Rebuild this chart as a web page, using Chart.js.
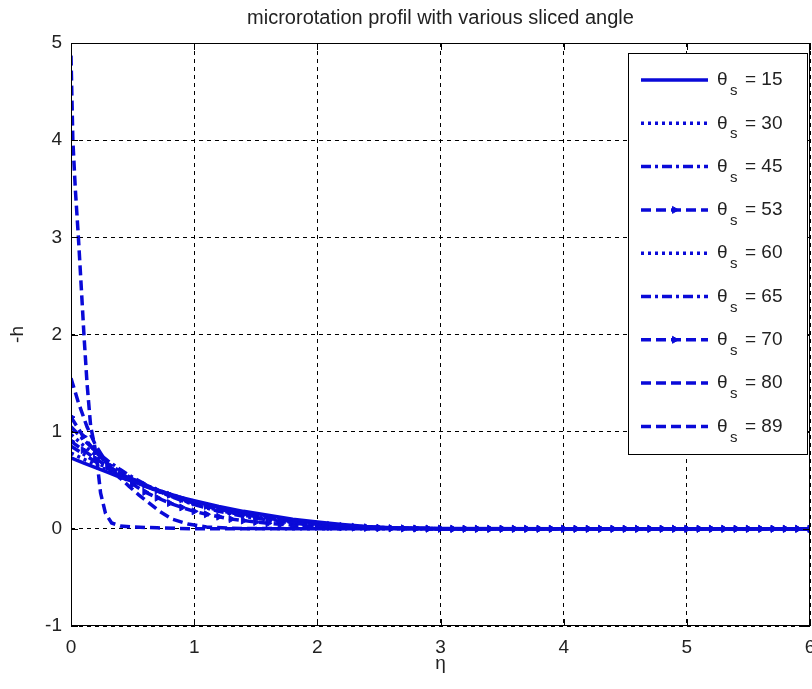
<!DOCTYPE html>
<html>
<head>
<meta charset="utf-8">
<title>microrotation profil with various sliced angle</title>
<script src="https://cdn.jsdelivr.net/npm/chart.js@4.4.0/dist/chart.umd.min.js"></script>
<style>
  html, body { margin: 0; padding: 0; background: #fff; overflow: hidden; }
  #wrap { width: 812px; height: 689px; position: relative; }
</style>
</head>
<body>
<div id="wrap"><canvas id="profileChart"></canvas></div>
<script>
// Values (eta on x, -h on y)
const etaFull = [0, 0.1, 0.2, 0.3, 0.4, 0.5, 0.6, 0.7, 0.8, 0.9,
                 1.0, 1.1, 1.2, 1.3, 1.4, 1.5, 1.6, 1.7, 1.8, 1.9,
                 2.0, 2.1, 2.2, 2.3, 2.4, 2.5, 2.6, 2.7, 2.8, 2.9,
                 3.0, 3.1, 3.2, 3.3, 3.4, 3.5, 3.6, 3.7, 3.8, 3.9,
                 4.0, 4.1, 4.2, 4.3, 4.4, 4.5, 4.6, 4.7, 4.8, 4.9,
                 5.0, 5.1, 5.2, 5.3, 5.4, 5.5, 5.6, 5.7, 5.8, 5.9, 6.0];
const etaBand = [0, 0.1, 0.2, 0.3, 0.4, 0.5, 0.6, 0.7, 0.8, 0.9, 1.0, 1.2, 1.4, 1.6, 1.8, 2.0, 2.2, 2.4, 2.6, 3, 4, 5, 6];
const eta80 = [0, 0.06, 0.13, 0.2, 0.3, 0.4, 0.47, 0.55, 0.63, 0.72, 0.82, 0.95, 1.1, 1.3, 2, 3, 4, 5, 6];
const eta89 = [0, 0.015, 0.035, 0.06, 0.085, 0.105, 0.13, 0.16, 0.19, 0.21, 0.24, 0.28, 0.33, 0.4, 0.5, 0.7, 1.0, 2, 3, 4, 5, 6];

const h15 = [0.73, 0.68, 0.63, 0.58, 0.53, 0.49, 0.44, 0.40, 0.36, 0.32, 0.29, 0.23, 0.18, 0.14, 0.10, 0.07, 0.045, 0.025, 0.012, 0.003, 0, 0, 0];
const h30 = [0.78, 0.72, 0.66, 0.60, 0.545, 0.495, 0.45, 0.40, 0.36, 0.32, 0.28, 0.22, 0.17, 0.125, 0.09, 0.06, 0.035, 0.02, 0.01, 0.002, 0, 0, 0];
const h45 = [0.85, 0.77, 0.69, 0.62, 0.555, 0.495, 0.44, 0.39, 0.345, 0.30, 0.265, 0.20, 0.15, 0.11, 0.075, 0.05, 0.03, 0.015, 0.008, 0.002, 0, 0, 0];
const h53 = [0.90, 0.81, 0.72, 0.64, 0.57, 0.505, 0.45, 0.395, 0.35, 0.305,
             0.27, 0.235, 0.205, 0.175, 0.15, 0.13, 0.11, 0.09, 0.075, 0.06,
             0.05, 0.04, 0.03, 0.022, 0.016, 0.011, 0.007, 0.005, 0.003, 0.002,
             0.001, 0, 0, 0, 0, 0, 0, 0, 0, 0,
             0, 0, 0, 0, 0, 0, 0, 0, 0, 0,
             0, 0, 0, 0, 0, 0, 0, 0, 0, 0, 0];
const h60 = [0.97, 0.86, 0.76, 0.67, 0.59, 0.515, 0.45, 0.39, 0.34, 0.295, 0.255, 0.19, 0.14, 0.10, 0.065, 0.04, 0.025, 0.012, 0.006, 0.001, 0, 0, 0];
const h65 = [1.05, 0.92, 0.80, 0.70, 0.61, 0.53, 0.46, 0.395, 0.34, 0.29, 0.25, 0.18, 0.13, 0.09, 0.06, 0.035, 0.02, 0.01, 0.005, 0.001, 0, 0, 0];
const h70 = [1.15, 0.95, 0.79, 0.66, 0.55, 0.46, 0.38, 0.32, 0.265, 0.22,
             0.18, 0.15, 0.125, 0.10, 0.085, 0.07, 0.057, 0.047, 0.038, 0.03,
             0.024, 0.019, 0.015, 0.012, 0.009, 0.007, 0.005, 0.004, 0.003, 0.002,
             0.001, 0, 0, 0, 0, 0, 0, 0, 0, 0,
             0, 0, 0, 0, 0, 0, 0, 0, 0, 0,
             0, 0, 0, 0, 0, 0, 0, 0, 0, 0, 0];
const h80 = [1.55, 1.3, 1.05, 0.86, 0.66, 0.52, 0.44, 0.35, 0.27, 0.18, 0.10, 0.05, 0.02, 0.005, 0, 0, 0, 0, 0];
const h89 = [4.87, 4.0, 3.5, 3.0, 2.45, 2.0, 1.5, 1.05, 0.87, 0.71, 0.37, 0.16, 0.06, 0.03, 0.02, 0.01, 0, 0, 0, 0, 0, 0];

const angles = [15, 30, 45, 53, 60, 65, 70, 80, 89];
const xTicks = [0, 1, 2, 3, 4, 5, 6];
const yTicks = [-1, 0, 1, 2, 3, 4, 5];

const chartTitle = 'microrotation profil with various sliced angle';
const lineColor = '#0a0ad8';
const fontFamily = "'Liberation Sans', Arial, sans-serif";

function toPoints(xs, ys) {
    return xs.map(function(x, i) { return { x: x, y: ys[i] }; });
}

// line style per series (MATLAB-like: -, :, -., --, with > markers)
const seriesDefs = [
    { eta: etaBand, h: h15, dash: [], marker: false },
    { eta: etaBand, h: h30, dash: [3, 4], marker: false },
    { eta: etaBand, h: h45, dash: [10, 4, 3, 4], marker: false },
    { eta: etaFull, h: h53, dash: [10, 5], marker: true },
    { eta: etaBand, h: h60, dash: [3, 4], marker: false },
    { eta: etaBand, h: h65, dash: [10, 4, 3, 4], marker: false },
    { eta: etaFull, h: h70, dash: [10, 5], marker: true },
    { eta: eta80, h: h80, dash: [10, 5], marker: false },
    { eta: eta89, h: h89, dash: [10, 5], marker: false }
];

const datasets = seriesDefs.map(function(s, i) {
    return {
        label: 'θs = ' + angles[i],
        data: toPoints(s.eta, s.h),
        borderColor: lineColor,
        backgroundColor: lineColor,
        borderWidth: 3.5,
        borderDash: s.dash,
        pointRadius: s.marker ? 4 : 0,
        pointStyle: 'triangle',
        pointRotation: 90,
        pointBorderWidth: 1,
        tension: 0,
        fill: false
    };
});

// axes box with inward ticks (drawn over the data, like MATLAB)
const framePlugin = {
    id: 'frame',
    afterDatasetsDraw: function(chart) {
        const ctx = chart.ctx;
        const a = chart.chartArea;
        const xs = chart.scales.x, ys = chart.scales.y;
        ctx.save();
        ctx.strokeStyle = '#000';
        ctx.lineWidth = 1;
        ctx.setLineDash([]);
        ctx.strokeRect(a.left + 0.5, a.top + 0.5, a.right - a.left - 1, a.bottom - a.top - 1);
        ctx.beginPath();
        xTicks.forEach(function(t) {
            const px = Math.round(xs.getPixelForValue(t)) + 0.5;
            ctx.moveTo(px, a.bottom); ctx.lineTo(px, a.bottom - 7);
            ctx.moveTo(px, a.top); ctx.lineTo(px, a.top + 7);
        });
        yTicks.forEach(function(t) {
            const py = Math.round(ys.getPixelForValue(t)) + 0.5;
            ctx.moveTo(a.left, py); ctx.lineTo(a.left + 7, py);
            ctx.moveTo(a.right, py); ctx.lineTo(a.right - 7, py);
        });
        ctx.stroke();
        ctx.restore();
    }
};

// boxed legend inside the axes, top right, with subscript s
const boxLegendPlugin = {
    id: 'boxLegend',
    afterDraw: function(chart) {
        const ctx = chart.ctx;
        const a = chart.chartArea;
        const w = 180, h = 402;
        const left = a.right - 2 - w;
        const top = a.top + 10;
        ctx.save();
        ctx.fillStyle = '#fff';
        ctx.fillRect(left, top, w, h);
        ctx.strokeStyle = '#000';
        ctx.lineWidth = 1;
        ctx.setLineDash([]);
        ctx.strokeRect(left + 0.5, top + 0.5, w - 1, h - 1);
        chart.data.datasets.forEach(function(ds, i) {
            const y = top + 27 + i * 43.3;
            const x0 = left + 13, x1 = left + 80;
            ctx.strokeStyle = ds.borderColor;
            ctx.lineWidth = ds.borderWidth;
            ctx.setLineDash(ds.borderDash);
            ctx.beginPath();
            ctx.moveTo(x0, y);
            ctx.lineTo(x1, y);
            ctx.stroke();
            if (ds.pointRadius > 0) {
                ctx.setLineDash([]);
                ctx.lineWidth = 1;
                ctx.fillStyle = ds.backgroundColor;
                Chart.helpers.drawPoint(ctx, {
                    pointStyle: ds.pointStyle,
                    rotation: ds.pointRotation,
                    radius: 4,
                    borderWidth: 1
                }, (x0 + x1) / 2, y);
            }
            ctx.setLineDash([]);
            ctx.fillStyle = '#222';
            ctx.textBaseline = 'middle';
            ctx.textAlign = 'left';
            ctx.font = '19px ' + fontFamily;
            ctx.fillText('θ', left + 89, y);
            ctx.font = '15px ' + fontFamily;
            ctx.fillText('s', left + 102, y + 11);
            ctx.font = '19px ' + fontFamily;
            ctx.fillText('= ' + angles[i], left + 117, y);
        });
        ctx.restore();
    }
};

document.addEventListener('DOMContentLoaded', function() {
    const canvas = document.getElementById('profileChart');
    if (!canvas) {
        console.error('chart canvas not found');
        return;
    }
    const gridDash = [4, 4];
    new Chart(canvas.getContext('2d'), {
        type: 'line',
        data: { datasets: datasets },
        plugins: [framePlugin, boxLegendPlugin],
        options: {
            responsive: true,
            maintainAspectRatio: false,
            animation: false,
            layout: { autoPadding: false, padding: { top: 0, right: 2, left: 0, bottom: 0 } },
            plugins: {
                legend: { display: false },
                tooltip: { enabled: false },
                title: {
                    display: true,
                    text: chartTitle,
                    fullSize: false,
                    color: '#222',
                    font: { family: fontFamily, size: 20, weight: 'normal' },
                    padding: { top: 6, bottom: 13 }
                }
            },
            scales: {
                x: {
                    type: 'linear',
                    min: 0,
                    max: 6,
                    afterFit: function(scale) {
                        // keep the plot box fixed; labels may overhang the edges
                        scale.height = 63;
                        scale.paddingLeft = 0;
                        scale.paddingRight = 0;
                    },
                    afterBuildTicks: function(scale) {
                        scale.ticks = xTicks.map(function(v) { return { value: v }; });
                    },
                    grid: { color: '#000', lineWidth: 1, drawTicks: false },
                    border: { display: false, dash: gridDash },
                    ticks: {
                        color: '#222',
                        padding: 10,
                        maxRotation: 0,
                        font: { family: fontFamily, size: 19 }
                    },
                    title: {
                        display: true,
                        text: 'η',
                        color: '#222',
                        font: { family: fontFamily, size: 19 },
                        padding: { top: 14, bottom: 14 }
                    }
                },
                y: {
                    type: 'linear',
                    min: -1,
                    max: 5,
                    afterFit: function(scale) {
                        scale.width = 71;
                        scale.paddingTop = 0;
                        scale.paddingBottom = 0;
                    },
                    afterBuildTicks: function(scale) {
                        scale.ticks = yTicks.map(function(v) { return { value: v }; });
                    },
                    grid: { color: '#000', lineWidth: 1, drawTicks: false },
                    border: { display: false, dash: gridDash },
                    ticks: {
                        color: '#222',
                        padding: 9,
                        font: { family: fontFamily, size: 19 }
                    },
                    title: {
                        display: true,
                        text: '-h',
                        color: '#222',
                        font: { family: fontFamily, size: 19 },
                        padding: { top: 6, bottom: 6 }
                    }
                }
            }
        }
    });
});
</script>
</body>
</html>
